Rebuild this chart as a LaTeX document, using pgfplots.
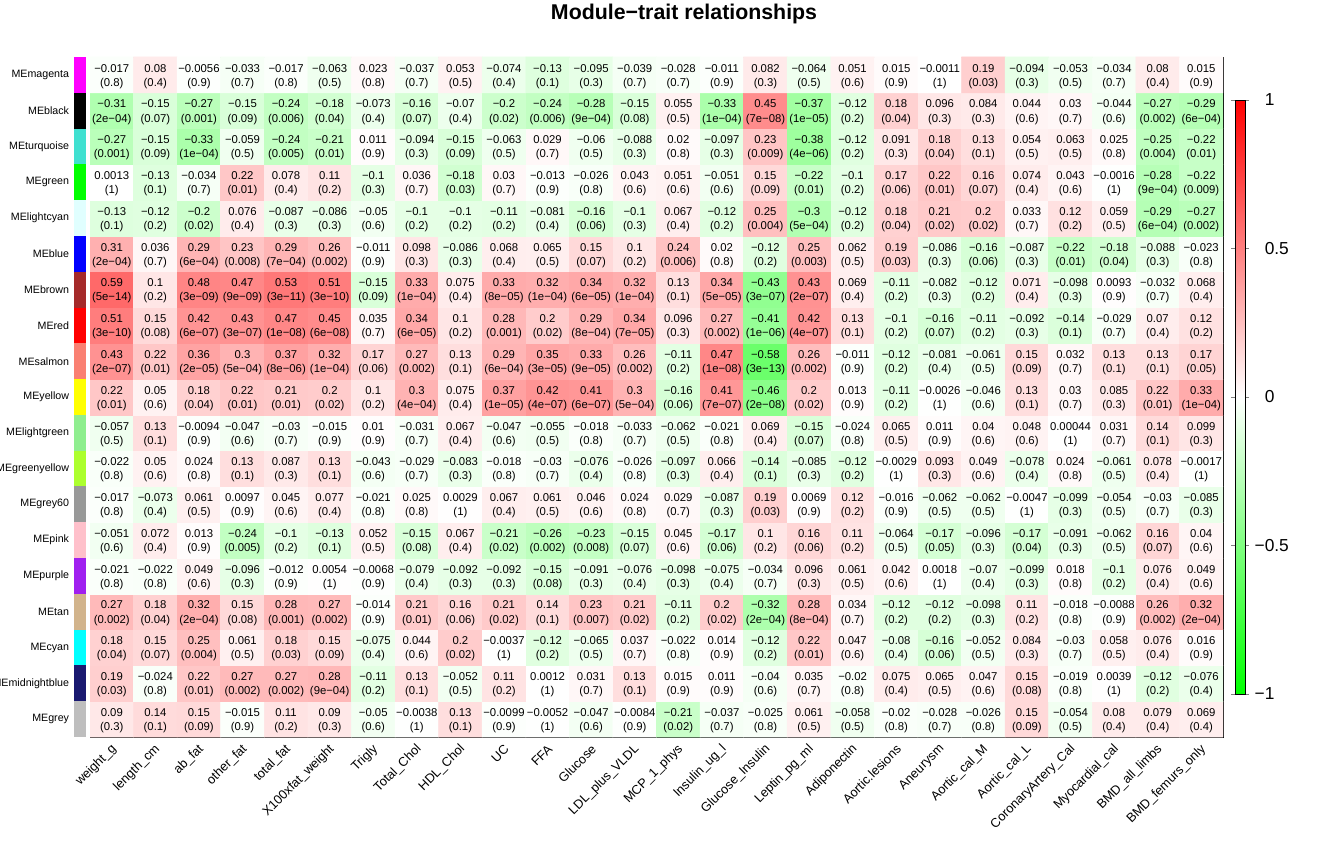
\documentclass[border=0pt]{standalone}
\usepackage{pgfplots}
\pgfplotsset{compat=1.18}
\usepackage{pgfplotstable}
\usepackage{fontspec}
\setmainfont{Liberation Sans}

% module colours (R names)
\definecolor{mmagenta}{HTML}{FF00FF}
\definecolor{mblack}{HTML}{000000}
\definecolor{mturquoise}{HTML}{40E0D0}
\definecolor{mgreen}{HTML}{00FF00}
\definecolor{mlightcyan}{HTML}{E0FFFF}
\definecolor{mblue}{HTML}{0000FF}
\definecolor{mbrown}{HTML}{A52A2A}
\definecolor{mred}{HTML}{FF0000}
\definecolor{msalmon}{HTML}{FA8072}
\definecolor{myellow}{HTML}{FFFF00}
\definecolor{mlightgreen}{HTML}{90EE90}
\definecolor{mgreenyellow}{HTML}{ADFF2F}
\definecolor{mgrey60}{HTML}{999999}
\definecolor{mpink}{HTML}{FFC0CB}
\definecolor{mpurple}{HTML}{A020F0}
\definecolor{mtan}{HTML}{D2B48C}
\definecolor{mcyan}{HTML}{00FFFF}
\definecolor{mmidnightblue}{HTML}{191970}
\definecolor{mgrey}{HTML}{BEBEBE}

% print a leading "-" as a real minus sign
\def\fixminus#1{\edef\fmtmp{#1}\expandafter\fixminusi\fmtmp\relax}
\def\fixminusi#1#2\relax{\ifx-#1−#2\else#1#2\fi}

% x = trait, y = module (0 = MEgrey at the bottom), r = correlation, p = p-value
\pgfplotstableread{
x y r p
0 0 0.09 0.3
1 0 0.14 0.1
2 0 0.15 0.09
3 0 -0.015 0.9
4 0 0.11 0.2
5 0 0.09 0.3
6 0 -0.05 0.6
7 0 -0.0038 1
8 0 0.13 0.1
9 0 -0.0099 0.9
10 0 -0.0052 1
11 0 -0.047 0.6
12 0 -0.0084 0.9
13 0 -0.21 0.02
14 0 -0.037 0.7
15 0 -0.025 0.8
16 0 0.061 0.5
17 0 -0.058 0.5
18 0 -0.02 0.8
19 0 -0.028 0.7
20 0 -0.026 0.8
21 0 0.15 0.09
22 0 -0.054 0.5
23 0 0.08 0.4
24 0 0.079 0.4
25 0 0.069 0.4
0 1 0.19 0.03
1 1 -0.024 0.8
2 1 0.22 0.01
3 1 0.27 0.002
4 1 0.27 0.002
5 1 0.28 9e−04
6 1 -0.11 0.2
7 1 0.13 0.1
8 1 -0.052 0.5
9 1 0.11 0.2
10 1 0.0012 1
11 1 0.031 0.7
12 1 0.13 0.1
13 1 0.015 0.9
14 1 0.011 0.9
15 1 -0.04 0.6
16 1 0.035 0.7
17 1 -0.02 0.8
18 1 0.075 0.4
19 1 0.065 0.5
20 1 0.047 0.6
21 1 0.15 0.08
22 1 -0.019 0.8
23 1 0.0039 1
24 1 -0.12 0.2
25 1 -0.076 0.4
0 2 0.18 0.04
1 2 0.15 0.07
2 2 0.25 0.004
3 2 0.061 0.5
4 2 0.18 0.03
5 2 0.15 0.09
6 2 -0.075 0.4
7 2 0.044 0.6
8 2 0.2 0.02
9 2 -0.0037 1
10 2 -0.12 0.2
11 2 -0.065 0.5
12 2 0.037 0.7
13 2 -0.022 0.8
14 2 0.014 0.9
15 2 -0.12 0.2
16 2 0.22 0.01
17 2 0.047 0.6
18 2 -0.08 0.4
19 2 -0.16 0.06
20 2 -0.052 0.5
21 2 0.084 0.3
22 2 -0.03 0.7
23 2 0.058 0.5
24 2 0.076 0.4
25 2 0.016 0.9
0 3 0.27 0.002
1 3 0.18 0.04
2 3 0.32 2e−04
3 3 0.15 0.08
4 3 0.28 0.001
5 3 0.27 0.002
6 3 -0.014 0.9
7 3 0.21 0.01
8 3 0.16 0.06
9 3 0.21 0.02
10 3 0.14 0.1
11 3 0.23 0.007
12 3 0.21 0.02
13 3 -0.11 0.2
14 3 0.2 0.02
15 3 -0.32 2e−04
16 3 0.28 8e−04
17 3 0.034 0.7
18 3 -0.12 0.2
19 3 -0.12 0.2
20 3 -0.098 0.3
21 3 0.11 0.2
22 3 -0.018 0.8
23 3 -0.0088 0.9
24 3 0.26 0.002
25 3 0.32 2e−04
0 4 -0.021 0.8
1 4 -0.022 0.8
2 4 0.049 0.6
3 4 -0.096 0.3
4 4 -0.012 0.9
5 4 0.0054 1
6 4 -0.0068 0.9
7 4 -0.079 0.4
8 4 -0.092 0.3
9 4 -0.092 0.3
10 4 -0.15 0.08
11 4 -0.091 0.3
12 4 -0.076 0.4
13 4 -0.098 0.3
14 4 -0.075 0.4
15 4 -0.034 0.7
16 4 0.096 0.3
17 4 0.061 0.5
18 4 0.042 0.6
19 4 0.0018 1
20 4 -0.07 0.4
21 4 -0.099 0.3
22 4 0.018 0.8
23 4 -0.1 0.2
24 4 0.076 0.4
25 4 0.049 0.6
0 5 -0.051 0.6
1 5 0.072 0.4
2 5 0.013 0.9
3 5 -0.24 0.005
4 5 -0.1 0.2
5 5 -0.13 0.1
6 5 0.052 0.5
7 5 -0.15 0.08
8 5 0.067 0.4
9 5 -0.21 0.02
10 5 -0.26 0.002
11 5 -0.23 0.008
12 5 -0.15 0.07
13 5 0.045 0.6
14 5 -0.17 0.06
15 5 0.1 0.2
16 5 0.16 0.06
17 5 0.11 0.2
18 5 -0.064 0.5
19 5 -0.17 0.05
20 5 -0.096 0.3
21 5 -0.17 0.04
22 5 -0.091 0.3
23 5 -0.062 0.5
24 5 0.16 0.07
25 5 0.04 0.6
0 6 -0.017 0.8
1 6 -0.073 0.4
2 6 0.061 0.5
3 6 0.0097 0.9
4 6 0.045 0.6
5 6 0.077 0.4
6 6 -0.021 0.8
7 6 0.025 0.8
8 6 0.0029 1
9 6 0.067 0.4
10 6 0.061 0.5
11 6 0.046 0.6
12 6 0.024 0.8
13 6 0.029 0.7
14 6 -0.087 0.3
15 6 0.19 0.03
16 6 0.0069 0.9
17 6 0.12 0.2
18 6 -0.016 0.9
19 6 -0.062 0.5
20 6 -0.062 0.5
21 6 -0.0047 1
22 6 -0.099 0.3
23 6 -0.054 0.5
24 6 -0.03 0.7
25 6 -0.085 0.3
0 7 -0.022 0.8
1 7 0.05 0.6
2 7 0.024 0.8
3 7 0.13 0.1
4 7 0.087 0.3
5 7 0.13 0.1
6 7 -0.043 0.6
7 7 -0.029 0.7
8 7 -0.083 0.3
9 7 -0.018 0.8
10 7 -0.03 0.7
11 7 -0.076 0.4
12 7 -0.026 0.8
13 7 -0.097 0.3
14 7 0.066 0.4
15 7 -0.14 0.1
16 7 -0.085 0.3
17 7 -0.12 0.2
18 7 -0.0029 1
19 7 0.093 0.3
20 7 0.049 0.6
21 7 -0.078 0.4
22 7 0.024 0.8
23 7 -0.061 0.5
24 7 0.078 0.4
25 7 -0.0017 1
0 8 -0.057 0.5
1 8 0.13 0.1
2 8 -0.0094 0.9
3 8 -0.047 0.6
4 8 -0.03 0.7
5 8 -0.015 0.9
6 8 0.01 0.9
7 8 -0.031 0.7
8 8 0.067 0.4
9 8 -0.047 0.6
10 8 -0.055 0.5
11 8 -0.018 0.8
12 8 -0.033 0.7
13 8 -0.062 0.5
14 8 -0.021 0.8
15 8 0.069 0.4
16 8 -0.15 0.07
17 8 -0.024 0.8
18 8 0.065 0.5
19 8 0.011 0.9
20 8 0.04 0.6
21 8 0.048 0.6
22 8 0.00044 1
23 8 0.031 0.7
24 8 0.14 0.1
25 8 0.099 0.3
0 9 0.22 0.01
1 9 0.05 0.6
2 9 0.18 0.04
3 9 0.22 0.01
4 9 0.21 0.01
5 9 0.2 0.02
6 9 0.1 0.2
7 9 0.3 4e−04
8 9 0.075 0.4
9 9 0.37 1e−05
10 9 0.42 4e−07
11 9 0.41 6e−07
12 9 0.3 5e−04
13 9 -0.16 0.06
14 9 0.41 7e−07
15 9 -0.46 2e−08
16 9 0.2 0.02
17 9 0.013 0.9
18 9 -0.11 0.2
19 9 -0.0026 1
20 9 -0.046 0.6
21 9 0.13 0.1
22 9 0.03 0.7
23 9 0.085 0.3
24 9 0.22 0.01
25 9 0.33 1e−04
0 10 0.43 2e−07
1 10 0.22 0.01
2 10 0.36 2e−05
3 10 0.3 5e−04
4 10 0.37 8e−06
5 10 0.32 1e−04
6 10 0.17 0.06
7 10 0.27 0.002
8 10 0.13 0.1
9 10 0.29 6e−04
10 10 0.35 3e−05
11 10 0.33 9e−05
12 10 0.26 0.002
13 10 -0.11 0.2
14 10 0.47 1e−08
15 10 -0.58 3e−13
16 10 0.26 0.002
17 10 -0.011 0.9
18 10 -0.12 0.2
19 10 -0.081 0.4
20 10 -0.061 0.5
21 10 0.15 0.09
22 10 0.032 0.7
23 10 0.13 0.1
24 10 0.13 0.1
25 10 0.17 0.05
0 11 0.51 3e−10
1 11 0.15 0.08
2 11 0.42 6e−07
3 11 0.43 3e−07
4 11 0.47 1e−08
5 11 0.45 6e−08
6 11 0.035 0.7
7 11 0.34 6e−05
8 11 0.1 0.2
9 11 0.28 0.001
10 11 0.2 0.02
11 11 0.29 8e−04
12 11 0.34 7e−05
13 11 0.096 0.3
14 11 0.27 0.002
15 11 -0.41 1e−06
16 11 0.42 4e−07
17 11 0.13 0.1
18 11 -0.1 0.2
19 11 -0.16 0.07
20 11 -0.11 0.2
21 11 -0.092 0.3
22 11 -0.14 0.1
23 11 -0.029 0.7
24 11 0.07 0.4
25 11 0.12 0.2
0 12 0.59 5e−14
1 12 0.1 0.2
2 12 0.48 3e−09
3 12 0.47 9e−09
4 12 0.53 3e−11
5 12 0.51 3e−10
6 12 -0.15 0.09
7 12 0.33 1e−04
8 12 0.075 0.4
9 12 0.33 8e−05
10 12 0.32 1e−04
11 12 0.34 6e−05
12 12 0.32 1e−04
13 12 0.13 0.1
14 12 0.34 5e−05
15 12 -0.43 3e−07
16 12 0.43 2e−07
17 12 0.069 0.4
18 12 -0.11 0.2
19 12 -0.082 0.3
20 12 -0.12 0.2
21 12 0.071 0.4
22 12 -0.098 0.3
23 12 0.0093 0.9
24 12 -0.032 0.7
25 12 0.068 0.4
0 13 0.31 2e−04
1 13 0.036 0.7
2 13 0.29 6e−04
3 13 0.23 0.008
4 13 0.29 7e−04
5 13 0.26 0.002
6 13 -0.011 0.9
7 13 0.098 0.3
8 13 -0.086 0.3
9 13 0.068 0.4
10 13 0.065 0.5
11 13 0.15 0.07
12 13 0.1 0.2
13 13 0.24 0.006
14 13 0.02 0.8
15 13 -0.12 0.2
16 13 0.25 0.003
17 13 0.062 0.5
18 13 0.19 0.03
19 13 -0.086 0.3
20 13 -0.16 0.06
21 13 -0.087 0.3
22 13 -0.22 0.01
23 13 -0.18 0.04
24 13 -0.088 0.3
25 13 -0.023 0.8
0 14 -0.13 0.1
1 14 -0.12 0.2
2 14 -0.2 0.02
3 14 0.076 0.4
4 14 -0.087 0.3
5 14 -0.086 0.3
6 14 -0.05 0.6
7 14 -0.1 0.2
8 14 -0.1 0.2
9 14 -0.11 0.2
10 14 -0.081 0.4
11 14 -0.16 0.06
12 14 -0.1 0.3
13 14 0.067 0.4
14 14 -0.12 0.2
15 14 0.25 0.004
16 14 -0.3 5e−04
17 14 -0.12 0.2
18 14 0.18 0.04
19 14 0.21 0.02
20 14 0.2 0.02
21 14 0.033 0.7
22 14 0.12 0.2
23 14 0.059 0.5
24 14 -0.29 6e−04
25 14 -0.27 0.002
0 15 0.0013 1
1 15 -0.13 0.1
2 15 -0.034 0.7
3 15 0.22 0.01
4 15 0.078 0.4
5 15 0.11 0.2
6 15 -0.1 0.3
7 15 0.036 0.7
8 15 -0.18 0.03
9 15 0.03 0.7
10 15 -0.013 0.9
11 15 -0.026 0.8
12 15 0.043 0.6
13 15 0.051 0.6
14 15 -0.051 0.6
15 15 0.15 0.09
16 15 -0.22 0.01
17 15 -0.1 0.2
18 15 0.17 0.06
19 15 0.22 0.01
20 15 0.16 0.07
21 15 0.074 0.4
22 15 0.043 0.6
23 15 -0.0016 1
24 15 -0.28 9e−04
25 15 -0.22 0.009
0 16 -0.27 0.001
1 16 -0.15 0.09
2 16 -0.33 1e−04
3 16 -0.059 0.5
4 16 -0.24 0.005
5 16 -0.21 0.01
6 16 0.011 0.9
7 16 -0.094 0.3
8 16 -0.15 0.09
9 16 -0.063 0.5
10 16 0.029 0.7
11 16 -0.06 0.5
12 16 -0.088 0.3
13 16 0.02 0.8
14 16 -0.097 0.3
15 16 0.23 0.009
16 16 -0.38 4e−06
17 16 -0.12 0.2
18 16 0.091 0.3
19 16 0.18 0.04
20 16 0.13 0.1
21 16 0.054 0.5
22 16 0.063 0.5
23 16 0.025 0.8
24 16 -0.25 0.004
25 16 -0.22 0.01
0 17 -0.31 2e−04
1 17 -0.15 0.07
2 17 -0.27 0.001
3 17 -0.15 0.09
4 17 -0.24 0.006
5 17 -0.18 0.04
6 17 -0.073 0.4
7 17 -0.16 0.07
8 17 -0.07 0.4
9 17 -0.2 0.02
10 17 -0.24 0.006
11 17 -0.28 9e−04
12 17 -0.15 0.08
13 17 0.055 0.5
14 17 -0.33 1e−04
15 17 0.45 7e−08
16 17 -0.37 1e−05
17 17 -0.12 0.2
18 17 0.18 0.04
19 17 0.096 0.3
20 17 0.084 0.3
21 17 0.044 0.6
22 17 0.03 0.7
23 17 -0.044 0.6
24 17 -0.27 0.002
25 17 -0.29 6e−04
0 18 -0.017 0.8
1 18 0.08 0.4
2 18 -0.0056 0.9
3 18 -0.033 0.7
4 18 -0.017 0.8
5 18 -0.063 0.5
6 18 0.023 0.8
7 18 -0.037 0.7
8 18 0.053 0.5
9 18 -0.074 0.4
10 18 -0.13 0.1
11 18 -0.095 0.3
12 18 -0.039 0.7
13 18 -0.028 0.7
14 18 -0.011 0.9
15 18 0.082 0.3
16 18 -0.064 0.5
17 18 0.051 0.6
18 18 0.015 0.9
19 18 -0.0011 1
20 18 0.19 0.03
21 18 -0.094 0.3
22 18 -0.053 0.5
23 18 -0.034 0.7
24 18 0.08 0.4
25 18 0.015 0.9
}\hm

\begin{document}
\begin{tikzpicture}
\useasboundingbox (0,0) rectangle (989.25pt,630pt);

% module colour strip with the row names
\begin{axis}[
    at={(55.5pt,77.25pt)}, anchor=south west,
    scale only axis, width=9pt, height=510pt,
    xmin=0, xmax=1, ymin=-0.5, ymax=18.5,
    axis line style={draw=none},
    xtick=\empty, ytick={0,...,18},
    yticklabels={MEgrey,MEmidnightblue,MEcyan,MEtan,MEpurple,MEpink,MEgrey60,
        MEgreenyellow,MElightgreen,MEyellow,MEsalmon,MEred,MEbrown,MEblue,
        MElightcyan,MEgreen,MEturquoise,MEblack,MEmagenta},
    major tick length=0pt,
    yticklabel style={font=\fontsize{8}{10}\selectfont, anchor=east, inner sep=0pt, xshift=-3.5pt},
]
\addplot[xbar, bar width=1, fill=mgrey, draw=none] coordinates {(1,0)};
\addplot[xbar, bar width=1, fill=mmidnightblue, draw=none] coordinates {(1,1)};
\addplot[xbar, bar width=1, fill=mcyan, draw=none] coordinates {(1,2)};
\addplot[xbar, bar width=1, fill=mtan, draw=none] coordinates {(1,3)};
\addplot[xbar, bar width=1, fill=mpurple, draw=none] coordinates {(1,4)};
\addplot[xbar, bar width=1, fill=mpink, draw=none] coordinates {(1,5)};
\addplot[xbar, bar width=1, fill=mgrey60, draw=none] coordinates {(1,6)};
\addplot[xbar, bar width=1, fill=mgreenyellow, draw=none] coordinates {(1,7)};
\addplot[xbar, bar width=1, fill=mlightgreen, draw=none] coordinates {(1,8)};
\addplot[xbar, bar width=1, fill=myellow, draw=none] coordinates {(1,9)};
\addplot[xbar, bar width=1, fill=msalmon, draw=none] coordinates {(1,10)};
\addplot[xbar, bar width=1, fill=mred, draw=none] coordinates {(1,11)};
\addplot[xbar, bar width=1, fill=mbrown, draw=none] coordinates {(1,12)};
\addplot[xbar, bar width=1, fill=mblue, draw=none] coordinates {(1,13)};
\addplot[xbar, bar width=1, fill=mlightcyan, draw=none] coordinates {(1,14)};
\addplot[xbar, bar width=1, fill=mgreen, draw=none] coordinates {(1,15)};
\addplot[xbar, bar width=1, fill=mturquoise, draw=none] coordinates {(1,16)};
\addplot[xbar, bar width=1, fill=mblack, draw=none] coordinates {(1,17)};
\addplot[xbar, bar width=1, fill=mmagenta, draw=none] coordinates {(1,18)};
\end{axis}

% the heatmap
\begin{axis}[
    at={(67.5pt,77.25pt)}, anchor=south west,
    scale only axis, width=849.75pt, height=510pt,
    xmin=-0.5, xmax=25.5, ymin=-0.5, ymax=18.5,
    axis line style={line width=0.7pt},
    ytick=\empty,
    xtick={0,...,25},
    xticklabels={weight\_g,length\_cm,ab\_fat,other\_fat,total\_fat,X100xfat\_weight,
        Trigly,Total\_Chol,HDL\_Chol,UC,FFA,Glucose,LDL\_plus\_VLDL,MCP\_1\_phys,
        Insulin\_ug\_l,Glucose\_Insulin,Leptin\_pg\_ml,Adiponectin,Aortic.lesions,
        Aneurysm,Aortic\_cal\_M,Aortic\_cal\_L,CoronaryArtery\_Cal,Myocardial\_cal,
        BMD\_all\_limbs,BMD\_femurs\_only},
    major tick length=0pt,
    xticklabel style={font=\fontsize{9.6}{11}\selectfont, inner sep=0pt,
        xshift=2pt, yshift=-7.5pt, rotate=45, anchor=east},
    colormap={gwr}{rgb255=(0,255,0) rgb255=(255,255,255) rgb255=(255,0,0)},
    point meta min=-1, point meta max=1,
    colorbar,
    colorbar style={
        at={(1.0106,0.9368)}, anchor=north west,
        scale only axis, width=7.5pt, height=445.5pt,
        ytick={-1,-0.5,0,0.5,1},
        yticklabels={−1,−0.5,\phantom{−}0,\phantom{−}0.5,\phantom{−}1},
        yticklabel style={font=\fontsize{13}{15}\selectfont, anchor=west, inner sep=0pt, xshift=4pt},
        major tick length=3pt, tick align=outside,
        axis line style={line width=0.5pt},
    },
    title={Module−trait relationships},
    title style={at={(0.5243,1.051)}, anchor=center, font=\bfseries\fontsize{16}{19}\selectfont},
]
\addplot[matrix plot*, mesh/cols=26, point meta=explicit] table[x=x, y=y, meta=r] {\hm};
\addplot[draw=none, mark=none, point meta=explicit symbolic,
    nodes near coords={\fixminus{\pgfplotspointmeta}},
    nodes near coords style={font=\fontsize{8.5}{10}\selectfont, anchor=center, inner sep=0pt, yshift=5pt}]
    table[x=x, y=y, meta=r] {\hm};
\addplot[draw=none, mark=none, point meta=explicit symbolic,
    nodes near coords={(\pgfplotspointmeta)},
    nodes near coords style={font=\fontsize{8.5}{10}\selectfont, anchor=center, inner sep=0pt, yshift=-6.3pt}]
    table[x=x, y=y, meta=p] {\hm};
\end{axis}
\end{tikzpicture}
\end{document}
